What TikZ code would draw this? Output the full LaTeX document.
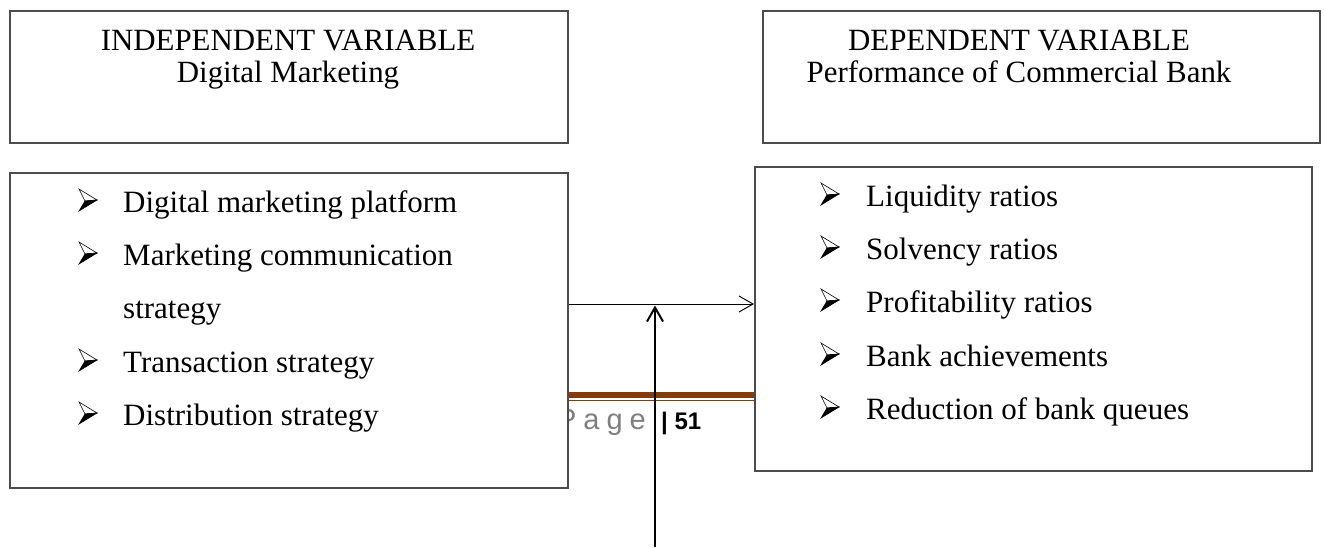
\documentclass[tikz,border=0pt]{standalone}
\usepackage{fontspec}
\setmainfont{Liberation Serif}
\newfontfamily\footfont{Liberation Sans}
\usepackage{xcolor}
\usepackage{tikz}
\usetikzlibrary{arrows.meta,positioning,calc}
\definecolor{rulebrown}{HTML}{843C0C}
\definecolor{footgray}{HTML}{7F7F7F}
\newcommand{\headsize}{\fontsize{30.9}{36}\selectfont}
\newcommand{\itemsize}{\fontsize{31}{36}\selectfont}
\newcommand{\footsize}{\fontsize{24}{28}\footfont}
\newcommand{\pagesize}{\fontsize{29}{32}\footfont}
\tikzset{
  varbox/.style={draw=black!70, line width=1.5pt, fill=white, anchor=north west, inner sep=0pt},
  headtxt/.style={anchor=base, font=\headsize, inner sep=0pt},
  itemtxt/.style={anchor=base west, font=\itemsize, inner sep=0pt},
  link/.style={-{Straight Barb[length=14pt, width=16pt]}, line width=1pt},
  modlink/.style={-{Straight Barb[length=14pt, width=16pt]}, line width=2pt},
  arrowbullet/.pic={
    \filldraw[fill=white, draw=black, line width=0.6pt] (0,-23) -- (18,-12) -- (6,-11) -- cycle;
    \filldraw[black, line width=0.6pt] (6,-11) -- (18,-12) -- (0,-1) -- cycle;
  },
}

\begin{document}
\begin{tikzpicture}[x=1pt, y=-1pt]
\useasboundingbox (0,0) rectangle (1325,547);
% page footer behind the boxes
\fill[rulebrown] (400,392) rectangle (900,398);
\fill[rulebrown] (400,399.5) rectangle (900,400.5);
\node[anchor=base east, font=\pagesize, text=footgray, inner sep=0pt] (pg) at (646,429) {\spaceskip=7pt P a g e};
\node[anchor=base west, font=\footsize\bfseries, inner sep=0pt] (pgno) at (661,429) {| 51};
% the four boxes
\node[varbox, minimum width=558pt, minimum height=132pt] (indep) at (9,10) {};
\node[varbox, minimum width=557pt, minimum height=132pt] (dep) at (762,10) {};
\node[varbox, minimum width=558pt, minimum height=315pt] (indepl) at (9,172) {};
\node[varbox, minimum width=557pt, minimum height=304pt] (depl) at (754,166) {};
\node[headtxt] (indepT) at (288,50) {INDEPENDENT VARIABLE};
\node[headtxt] (indepS) at (288,82) {Digital Marketing};
\node[headtxt] (depT) at (1019,50) {DEPENDENT VARIABLE};
\node[headtxt] (depS) at (1019,82) {Performance of Commercial Bank};
% left list
\pic at (79,212) {arrowbullet};
\pic at (79,265) {arrowbullet};
\pic at (79,372) {arrowbullet};
\pic at (79,425) {arrowbullet};
\node[itemtxt] (dmp) at (123,212) {Digital marketing platform};
\node[itemtxt] (mcs) at (123,265) {Marketing communication};
\node[itemtxt] (mcs2) at (123,318) {strategy};
\node[itemtxt] (ts) at (123,372) {Transaction strategy};
\node[itemtxt] (ds) at (123,425) {Distribution strategy};
% right list
\foreach \y in {206,259,312,366,419} \pic at (821,\y) {arrowbullet};
\node[itemtxt] (liq) at (866,206) {Liquidity ratios};
\node[itemtxt] (solv) at (866,259) {Solvency ratios};
\node[itemtxt] (prof) at (866,312) {Profitability ratios};
\node[itemtxt] (ach) at (866,366) {Bank achievements};
\node[itemtxt] (queue) at (866,419) {Reduction of bank queues};
% connectors
\coordinate (hit) at (655,304);
\coordinate (mod) at (655,547);
\draw[link] (indepl.east |- hit) -- (depl.west |- hit);
\draw[modlink] (mod) -- ($(hit)+(0,1.5)$);
\end{tikzpicture}
\end{document}
